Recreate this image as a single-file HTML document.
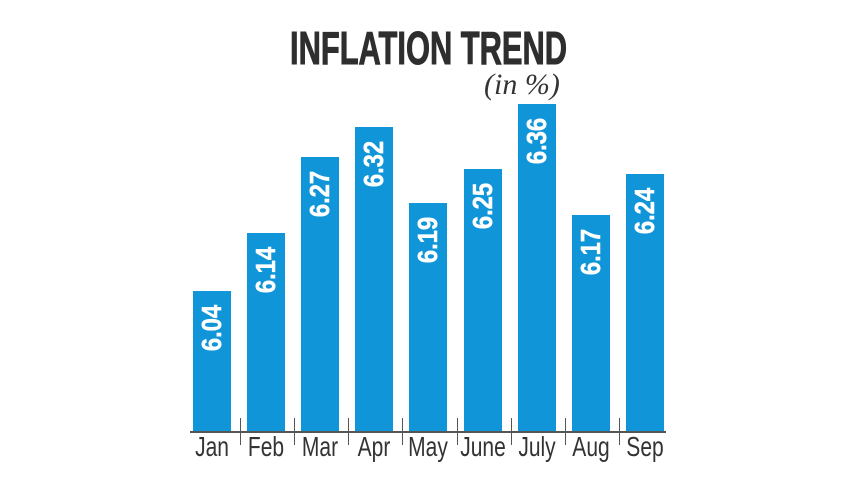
<!DOCTYPE html>
<html><head><style>
html,body{margin:0;padding:0;background:#fff;}
body{width:857px;height:482px;position:relative;overflow:hidden;font-family:"Liberation Sans",sans-serif;}
.t{position:absolute;left:290px;top:21px;font-weight:bold;font-size:46px;color:#2e2e2e;white-space:nowrap;transform-origin:0 0;-webkit-text-stroke:1px #2e2e2e;}
.s{position:absolute;left:484px;top:68px;font-family:"Liberation Serif",serif;font-style:italic;font-size:30px;color:#333;}
.b{position:absolute;background:#0f95d8;width:38px;}
.v{position:absolute;color:#fff;font-weight:bold;font-size:28px;white-space:nowrap;transform:rotate(-90deg) scaleX(0.85);transform-origin:center;-webkit-text-stroke:0.5px #fff;}
.ax{position:absolute;left:190px;top:431px;width:476px;height:1.5px;background:#555;}
.tk{position:absolute;top:418px;width:1px;height:27px;background:#555;}
.l{position:absolute;top:431px;font-size:28px;color:#333;transform:scaleX(0.75);transform-origin:center;width:70px;text-align:center;}
</style></head><body>
<div class="t" id="t">INFLATION TREND</div>
<div class="s">(in %)</div>
<div id="c"></div>
<div class="ax"></div>
<script>
var t=document.getElementById('t');t.style.transform='scaleX('+(277/t.scrollWidth)+')';
var d=[["Jan",6.04,291],["Feb",6.14,233],["Mar",6.27,157],["Apr",6.32,127],["May",6.19,203],["June",6.25,169],["July",6.36,104],["Aug",6.17,215],["Sep",6.24,174]];
var h='';
d.forEach(function(e,i){var x=193+i*54.1;var top=e[2];
h+='<div class="b" style="left:'+x+'px;top:'+top+'px;height:'+(432-top)+'px"></div>';
h+='<div class="v" style="left:'+(x-11)+'px;top:'+(top+23)+'px;width:60px;text-align:center;line-height:28px">'+e[1].toFixed(2)+'</div>';
h+='<div class="l" style="left:'+(x+19-35)+'px">'+e[0]+'</div>';
if(i>0)h+='<div class="tk" style="left:'+(x-7)+'px"></div>';
});
document.getElementById('c').innerHTML=h;
</script>
</body></html>
